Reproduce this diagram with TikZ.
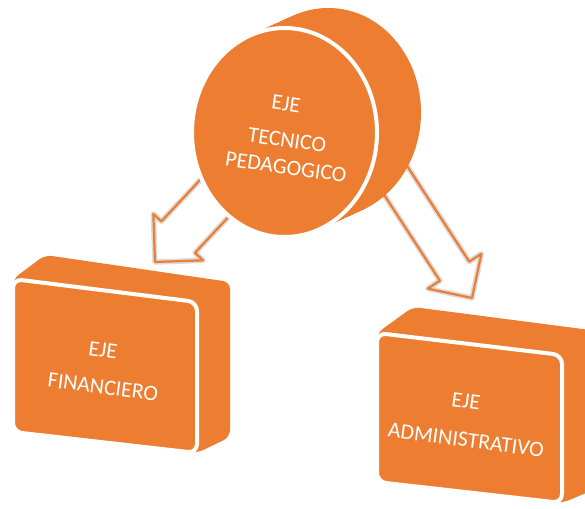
\documentclass[tikz,border=0pt]{standalone}
\usepackage{fontspec}
\setmainfont{Carlito}
\definecolor{eorange}{HTML}{ED7D31}
\definecolor{halo}{HTML}{DCDCDC}
\tikzset{
  bodyfill/.style={fill=eorange, rounded corners=7pt},
  frontface/.style={fill=eorange, draw=white, line width=4pt, rounded corners=9pt},
  lbl/.style={text=white, font=\fontsize{22}{26}\selectfont, inner sep=0pt},
  arrowhalo/.style={draw=halo, line width=5.5pt, line join=round},
  arrowline/.style={draw=eorange, line width=2.2pt, line join=round},
}
\begin{document}
\begin{tikzpicture}[x=1pt,y=-1pt]
\useasboundingbox (0,0) rectangle (585,508);
\fill[white] (0,0) rectangle (585,508);

% ---- left box (EJE FINANCIERO)
\fill[bodyfill] (13,279) -- (45,255) -- (230,282) -- (230,437) -- (197,453) -- (13,432) -- cycle;
\draw[frontface] (13,279) -- (197,302) -- (197,453) -- (13,432) -- cycle;
\node[lbl, rotate=-7.5] (finA) at (103,350) {EJE};
\node[lbl, rotate=-7.5] (finB) at (103,387) {FINANCIERO};

% ---- right box (EJE ADMINISTRATIVO)
\fill[bodyfill] (377,333) -- (413,307) -- (598,331) -- (598,488) -- (562,503) -- (377,482) -- cycle;
\draw[frontface] (377,333) -- (562,355) -- (562,503) -- (377,482) -- cycle;
\node[lbl, rotate=-7.5] (admA) at (466,401) {EJE};
\node[lbl, rotate=-7.5] (admB) at (466,440) {ADMINISTRATIVO};

% ---- left arrow
\begin{scope}[shift={(155,262)}, rotate=227]
  \coordinate (lt) at (0,0);
  \fill[white] (-150,-23) -- (-34,-23) -- (-34,-34) -- (0,0) -- (-34,34) -- (-34,23) -- (-150,23) -- cycle;
  \draw[arrowhalo] (-150,-23) -- (-34,-23) -- (-34,-34) -- (0,0) -- (-34,34) -- (-34,23) -- (-150,23);
  \draw[arrowline] (-150,-23) -- (-34,-23) -- (-34,-34) -- (0,0) -- (-34,34) -- (-34,23) -- (-150,23);
\end{scope}

% ---- right arrow
\begin{scope}[shift={(472,298)}, rotate=-57]
  \coordinate (rt) at (0,0);
  \fill[white] (-170,-17.5) -- (-32,-17.5) -- (-32,-32) -- (0,0) -- (-32,32) -- (-32,17.5) -- (-170,17.5) -- cycle;
  \draw[arrowhalo] (-170,-17.5) -- (-32,-17.5) -- (-32,-32) -- (0,0) -- (-32,32) -- (-32,17.5) -- (-170,17.5);
  \draw[arrowline] (-170,-17.5) -- (-32,-17.5) -- (-32,-32) -- (0,0) -- (-32,32) -- (-32,17.5) -- (-170,17.5);
\end{scope}

% ---- disc (EJE TECNICO PEDAGOGICO)
\foreach \i in {0,...,44} {
  \fill[eorange] ({284.5+\i},{132.5-\i*20/44}) ellipse (92.5 and 104.5);
}
\coordinate (disc) at (284.5,132.5);
\filldraw[fill=eorange, draw=white, line width=4pt] (disc) ellipse (92.5 and 104.5);
\node[lbl, rotate=-8] (tecA) at (286,104) {EJE};
\node[lbl, rotate=-8] (tecB) at (287,140) {TECNICO};
\node[lbl, rotate=-8] (tecC) at (286,167) {PEDAGOGICO};
\end{tikzpicture}
\end{document}
